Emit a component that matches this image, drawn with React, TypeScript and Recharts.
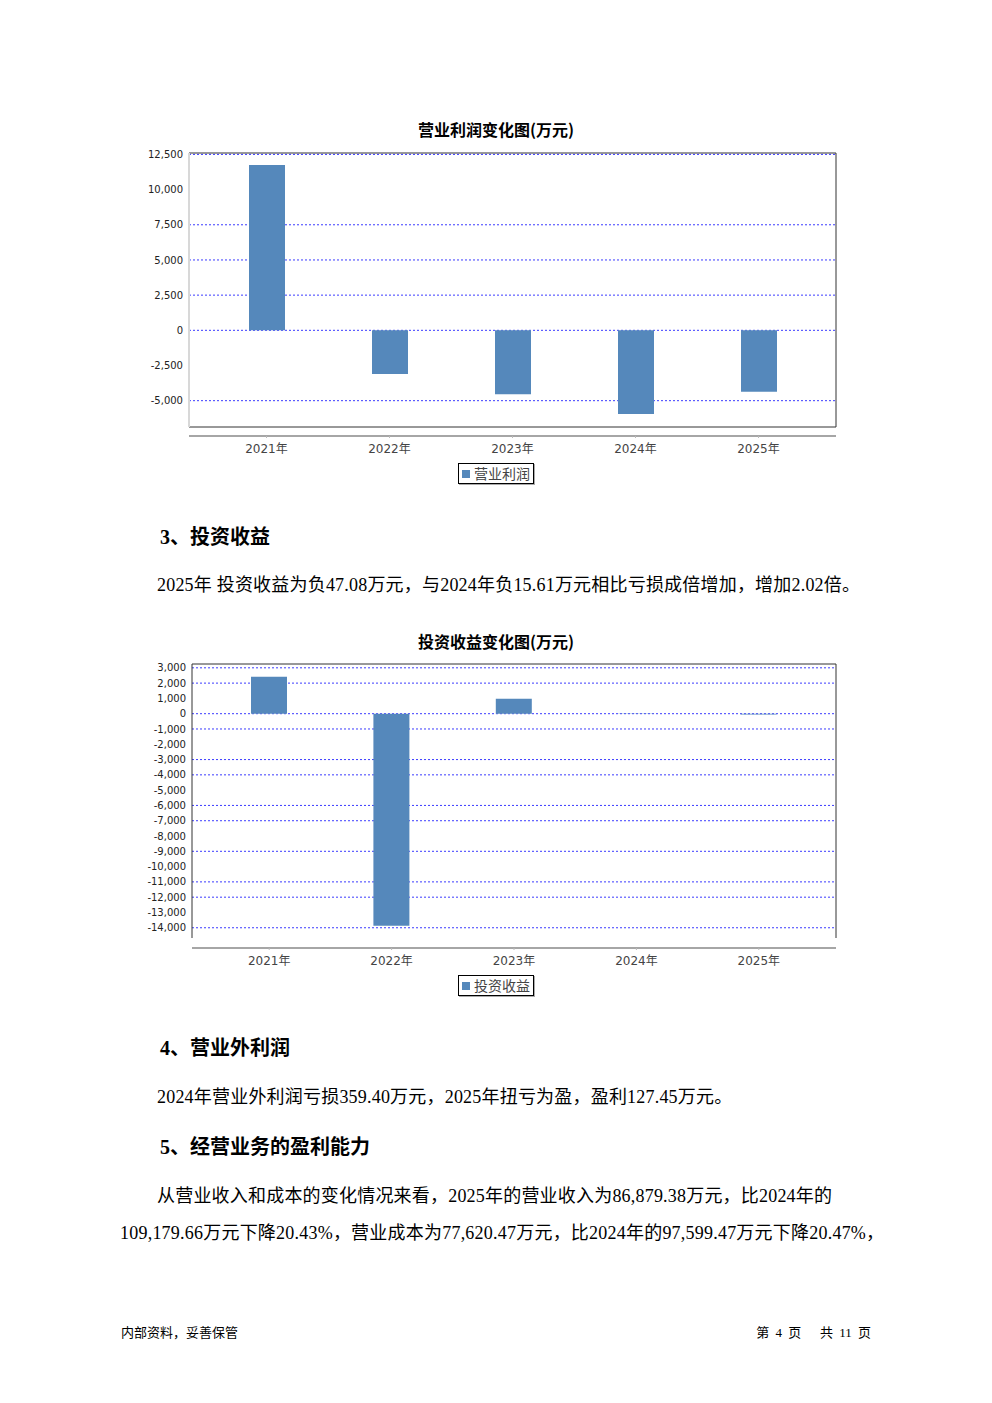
import React from 'react';
import { BarChart, Bar, XAxis, YAxis, CartesianGrid, Legend } from 'recharts';

// ---- data ----
const years = ['2021年', '2022年', '2023年', '2024年', '2025年'];

const profitName = '营业利润';
const profitValues = [11740, -3100, -4550, -5950, -4360];
const profitTicks = [12500, 10000, 7500, 5000, 2500, 0, -2500, -5000];
const profitGridValues = [12500, 7500, 5000, 2500, 0, -5000];
const profitDomain = [-6870, 12600];

const incomeName = '投资收益';
const incomeValues = [2420, -13870, 980, -15.61, -47.08];
const incomeTicks = [3000, 2000, 1000, 0, -1000, -2000, -3000, -4000, -5000, -6000, -7000, -8000, -9000, -10000, -11000, -12000, -13000, -14000];
const incomeGridValues = [3000, 2000, 0, -1000, -3000, -4000, -6000, -7000, -9000, -11000, -12000, -14000];
const incomeDomain = [-14670, 3250];

const BAR_COLOR = '#5588bb';
const GRID_COLOR = '#3b3bff';
const TEXT_FONT = "'Liberation Serif', 'Noto Sans CJK SC', serif";
const AXIS_FONT = "'DejaVu Sans', 'Noto Sans CJK SC', sans-serif";

type ChartProps = {
  top: number;
  name: string;
  values: number[];
  ticks: number[];
  gridValues: number[];
  domain: number[];
  marginTop: number;
  marginBottom: number;
  yAxisWidth: number;
  boxAxisHeight: number;
  leftAxis: any;
  bottomBorder: boolean;
  padX: number;
};

const fmt = (v: number) => v.toLocaleString('en-US');

const LegendBox = (props: any) => {
  const p = (props.payload && props.payload[0]) || {};
  return (
    <div style={{ textAlign: 'center', height: 22 }}>
      <div
        style={{
          display: 'inline-flex',
          alignItems: 'center',
          height: 19,
          border: '1px solid #000',
          boxShadow: '1px 1px 0 #aaa',
          padding: '0 3px 0 3px',
          fontFamily: "'Noto Sans CJK SC', sans-serif",
          fontSize: 14,
          color: '#444',
          background: '#fff',
        }}
      >
        <span style={{ display: 'inline-block', width: 8, height: 8, background: p.color || BAR_COLOR, marginRight: 4 }} />
        <span style={{ lineHeight: '19px' }}>{p.value}</span>
      </div>
    </div>
  );
};

const PageChart = (c: ChartProps) => {
  const data = years.map((y, i) => ({ year: y, value: c.values[i] }));
  return (
    <div style={{ position: 'absolute', left: 0, top: c.top, width: 992, height: 360 }}>
      <BarChart
        width={992}
        height={360}
        data={data}
        margin={{ top: c.marginTop - 1, right: 155, left: 120, bottom: c.marginBottom }}
        barCategoryGap={0}
      >
        <XAxis xAxisId="top" orientation="top" dataKey="year" height={1} tick={false} tickLine={false} axisLine={{ stroke: '#333' }} />
        <XAxis
          xAxisId="box"
          dataKey="year"
          height={c.boxAxisHeight}
          tick={false}
          tickLine={false}
          axisLine={c.bottomBorder ? { stroke: '#333' } : false}
        />
        <XAxis
          xAxisId="main"
          dataKey="year"
          height={27}
          padding={{ left: c.padX, right: c.padX }}
          axisLine={{ stroke: '#888', strokeWidth: 1.5 }}
          tickLine={{ stroke: '#bbb' }}
          tickSize={2}
          tickMargin={6}
          interval={0}
          tick={{ fontFamily: AXIS_FONT, fontSize: 12, fill: '#444' }}
        />
        <YAxis
          yAxisId="left"
          type="number"
          width={c.yAxisWidth}
          domain={c.domain}
          ticks={c.ticks}
          interval={0}
          allowDataOverflow
          tickFormatter={fmt}
          tickLine={false}
          tickSize={0}
          tickMargin={6}
          axisLine={c.leftAxis}
          tick={{ fontFamily: AXIS_FONT, fontSize: 10, fill: '#222' }}
        />
        <YAxis
          yAxisId="right"
          orientation="right"
          type="number"
          width={1}
          domain={c.domain}
          allowDataOverflow
          tick={false}
          tickLine={false}
          axisLine={{ stroke: '#333' }}
        />
        <CartesianGrid
          xAxisId="main"
          yAxisId="left"
          vertical={false}
          horizontalValues={c.gridValues}
          stroke={GRID_COLOR}
          strokeDasharray="2 2"
        />
        <Bar
          xAxisId="main"
          yAxisId="left"
          dataKey="value"
          name={c.name}
          fill={BAR_COLOR}
          barSize={36}
          isAnimationActive={false}
        />
        <Legend verticalAlign="bottom" align="center" wrapperStyle={{ left: 0, width: 992 }} content={LegendBox} />
      </BarChart>
    </div>
  );
};

const T = (p: { x?: number; right?: number; cy: number; size: number; bold?: boolean; children: any; ls?: number; ws?: number }) => (
  <div
    style={{
      position: 'absolute',
      left: p.x,
      right: p.right,
      top: p.cy - 15,
      height: 30,
      lineHeight: '30px',
      fontSize: p.size,
      fontWeight: p.bold ? 'bold' : 'normal',
      fontFamily: TEXT_FONT,
      whiteSpace: 'nowrap',
      letterSpacing: p.ls ? p.ls + 'px' : undefined,
      wordSpacing: p.ws ? p.ws + 'px' : undefined,
      color: '#000',
    }}
  >
    {p.children}
  </div>
);

const Title = (p: { cy: number; children: any }) => (
  <div
    style={{
      position: 'absolute',
      left: 0,
      width: 992,
      top: p.cy - 12,
      height: 24,
      lineHeight: '24px',
      textAlign: 'center',
      fontSize: 16,
      fontWeight: 'bold',
      fontFamily: "'Noto Sans CJK SC', sans-serif",
      color: '#000',
    }}
  >
    {p.children}
  </div>
);

export default function App() {
  return (
    <div style={{ position: 'absolute', left: 0, top: 0, width: 992, height: 1403, background: '#fff', overflow: 'hidden' }}>
      <Title cy={129}>营业利润变化图(万元)</Title>
      <PageChart
        top={140}
        name={profitName}
        values={profitValues}
        ticks={profitTicks}
        gridValues={profitGridValues}
        domain={profitDomain}
        marginTop={13}
        marginBottom={15}
        yAxisWidth={69}
        boxAxisHeight={9}
        leftAxis={{ stroke: '#d8d8d8', strokeWidth: 2 }}
        bottomBorder={true}
        padX={16}
      />

      <T x={160} cy={537} size={20} bold>3、投资收益</T>
      <T x={157} cy={585} size={18} ls={0.2}>2025年 投资收益为负47.08万元，与2024年负15.61万元相比亏损成倍增加，增加2.02倍。</T>

      <Title cy={641}>投资收益变化图(万元)</Title>
      <PageChart
        top={650}
        name={incomeName}
        values={incomeValues}
        ticks={incomeTicks}
        gridValues={incomeGridValues}
        domain={incomeDomain}
        marginTop={14}
        marginBottom={13}
        yAxisWidth={72}
        boxAxisHeight={10}
        leftAxis={{ stroke: '#333' }}
        bottomBorder={false}
        padX={16}
      />

      <T x={160} cy={1048} size={20} bold>4、营业外利润</T>
      <T x={157} cy={1097} size={18} ls={0.2}>2024年营业外利润亏损359.40万元，2025年扭亏为盈，盈利127.45万元。</T>
      <T x={160} cy={1147} size={20} bold>5、经营业务的盈利能力</T>
      <T x={157} cy={1196} size={18} ls={0.2}>从营业收入和成本的变化情况来看，2025年的营业收入为86,879.38万元，比2024年的</T>
      <T x={120} cy={1233} size={18} ls={0.22}>109,179.66万元下降20.43%，营业成本为77,620.47万元，比2024年的97,599.47万元下降20.47%，</T>

      <T x={121} cy={1333} size={13}>内部资料，妥善保管</T>
      <T right={121} cy={1333} size={13} ws={3}>第&nbsp;4&nbsp;页&nbsp;&nbsp;&nbsp;共&nbsp;11&nbsp;页</T>
    </div>
  );
}
